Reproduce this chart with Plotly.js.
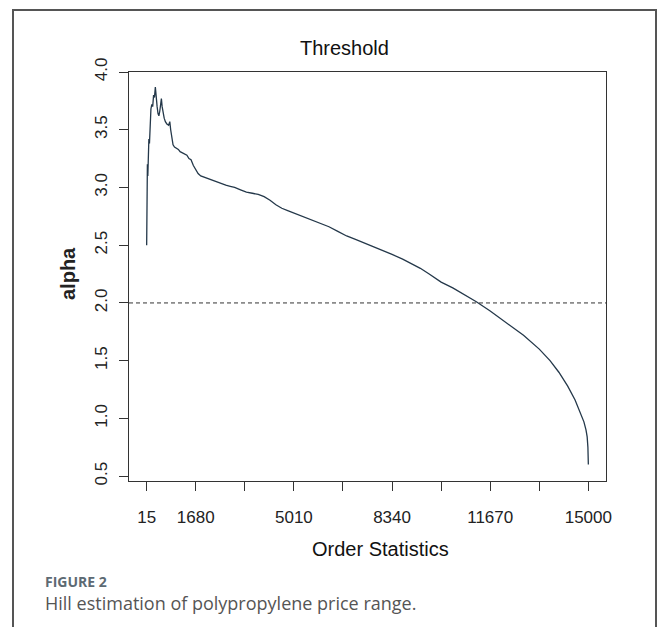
<!DOCTYPE html>
<html><head><meta charset="utf-8">
<script src="https://cdn.plot.ly/plotly-3.0.1.min.js"></script>
<style>html,body{margin:0;padding:0;background:#fff;overflow:hidden} #chart{width:658px;height:627px;}</style>
</head><body><div id="chart"></div>
<script>
const orderStats = [15,20,30,40,55,70,90,110,130,160,190,220,250,280,310,340,370,400,430,460,490,515,540,570,610,650,700,760,800,830,870,910,960,1020,1090,1150,1220,1300,1380,1450,1520,1600,1680,1760,1850,1950,2100,2250,2400,2550,2700,2850,3000,3200,3400,3600,3800,4000,4200,4400,4600,4800,5010,5300,5600,5900,6200,6500,6800,7100,7400,7700,8000,8340,8700,9000,9300,9600,10005,10400,10800,11200,11670,12000,12400,12800,13335,13700,14000,14300,14550,14750,14850,14920,14960,14985,15000];
const alphaValues = [2.50,2.92,3.05,3.20,3.10,3.30,3.42,3.38,3.55,3.68,3.72,3.70,3.80,3.78,3.87,3.76,3.70,3.64,3.62,3.66,3.72,3.77,3.70,3.64,3.60,3.57,3.55,3.54,3.57,3.50,3.42,3.37,3.35,3.34,3.33,3.31,3.30,3.29,3.28,3.25,3.24,3.19,3.15,3.12,3.10,3.09,3.08,3.06,3.05,3.03,3.02,3.01,3.00,2.98,2.96,2.95,2.94,2.92,2.89,2.85,2.82,2.80,2.78,2.75,2.72,2.69,2.66,2.62,2.58,2.55,2.52,2.49,2.46,2.42,2.38,2.34,2.30,2.25,2.18,2.13,2.07,2.01,1.93,1.87,1.80,1.72,1.60,1.50,1.40,1.28,1.16,1.04,0.97,0.90,0.84,0.75,0.60];
const xTickVals = [15,1680,3345,5010,6675,8340,10005,11670,13335,15000];
const xTickText = ["15","1680","","5010","","8340","","11670","","15000"];
const yTickVals = [0.5,1.0,1.5,2.0,2.5,3.0,3.5,4.0];
const yTickText = ["0.5","1.0","1.5","2.0","2.5","3.0","3.5","4.0"];
const thresholdAlpha = 2;
const chartTitle = "Threshold";
const xTitle = "Order Statistics";
const yTitle = "alpha";
const figLabel = "FIGURE 2";
const figCaption = "Hill estimation of polypropylene price range.";

const W = 658, H = 627, ML = 129, MR = 52, MT = 72, MB = 146;
const PW = W - ML - MR, PH = H - MT - MB;
const px = x => (x - ML) / PW;
const py = y => (H - MB - y) / PH;

const rfont = 'Arial, "Liberation Sans", sans-serif';

const trace = {
  x: orderStats, y: alphaValues, type: 'scatter', mode: 'lines',
  line: {color: '#24384a', width: 1.3}, hoverinfo: 'skip'
};

const layout = {
  width: W, height: H,
  margin: {l: ML, r: MR, t: MT, b: MB, pad: 0},
  paper_bgcolor: '#fff', plot_bgcolor: '#fff',
  showlegend: false,
  xaxis: {
    range: [-584, 15599], tickvals: xTickVals, ticktext: xTickText,
    ticks: 'outside', ticklen: 9, tickwidth: 1, tickcolor: '#333',
    showline: true, mirror: true, linecolor: '#333', linewidth: 1.2,
    showgrid: false, zeroline: false, ticklabelstandoff: 11,
    tickfont: {family: rfont, size: 17, color: '#222'}
  },
  yaxis: {
    range: [0.458, 4.0], tickvals: yTickVals, ticktext: yTickText,
    ticks: 'outside', ticklen: 9, tickwidth: 1, tickcolor: '#333',
    showline: true, mirror: true, linecolor: '#333', linewidth: 1.2,
    showgrid: false, zeroline: false, tickangle: -90, ticklabelstandoff: 5,
    tickfont: {family: rfont, size: 17, color: '#222'}
  },
  shapes: [
    {type: 'line', xref: 'paper', x0: 0, x1: 1, yref: 'y', y0: thresholdAlpha, y1: thresholdAlpha,
     line: {color: '#333', width: 1, dash: '4px,3px'}},
    {type: 'path', xref: 'paper', yref: 'paper',
     path: `M ${px(13)} ${py(640)} L ${px(13)} ${py(10)} L ${px(656)} ${py(10)} L ${px(656)} ${py(640)}`,
     line: {color: '#555', width: 2}}
  ],
  annotations: [
    {text: chartTitle, xref: 'paper', yref: 'paper', x: px(344), y: py(48), xanchor: 'center', yanchor: 'middle',
     showarrow: false, font: {family: rfont, size: 20, color: '#111'}},
    {text: xTitle, xref: 'paper', yref: 'paper', x: px(380), y: py(549), xanchor: 'center', yanchor: 'middle',
     showarrow: false, font: {family: rfont, size: 20, color: '#111'}},
    {text: '<b>' + yTitle + '</b>', xref: 'paper', yref: 'paper', x: px(68), y: py(274), xanchor: 'center', yanchor: 'middle',
     textangle: -90, showarrow: false, font: {family: rfont, size: 20, color: '#222'}},
    {text: '<b>' + figLabel + '</b>', xref: 'paper', yref: 'paper', x: px(43), y: py(581), xanchor: 'left', yanchor: 'middle',
     showarrow: false, font: {family: '"Open Sans", sans-serif', size: 14, color: '#5d6a73'}},
    {text: figCaption, xref: 'paper', yref: 'paper', x: px(43), y: py(603), xanchor: 'left', yanchor: 'middle',
     showarrow: false, font: {family: '"Open Sans", sans-serif', size: 18, color: '#555'}}
  ]
};

Plotly.newPlot('chart', [trace], layout, {staticPlot: true, displayModeBar: false});
</script></body></html>
